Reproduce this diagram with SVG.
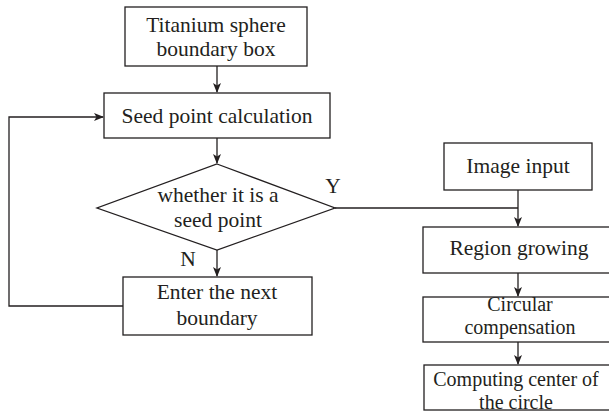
<svg xmlns="http://www.w3.org/2000/svg" width="609" height="413" viewBox="0 0 609 413">
<style>
.box{fill:#fff;stroke:#231f20;stroke-width:1.3}
.t{font-family:"Liberation Serif","Times New Roman",serif;font-size:21.5px;fill:#231f20;text-anchor:middle}
.s{font-size:20px}
.c{fill:none;stroke:#231f20;stroke-width:1.3}
</style>
<defs>
<marker id="ah" markerWidth="10" markerHeight="8" refX="9" refY="4" orient="auto" markerUnits="userSpaceOnUse">
<path d="M0,0 L10,4 L0,8 L2.5,4 Z" fill="#231f20"/>
</marker>
</defs>
<g id="connectors">
<path class="c" d="M217,66 V92" marker-end="url(#ah)"/>
<path class="c" d="M217,138 V163" marker-end="url(#ah)"/>
<path class="c" d="M217,250 V276" marker-end="url(#ah)"/>
<path class="c" d="M123,306 H9 V117 H103" marker-end="url(#ah)"/>
<path class="c" d="M335,208 H518"/>
<path class="c" d="M518,190 V226" marker-end="url(#ah)"/>
<path class="c" d="M518,273 V296" marker-end="url(#ah)"/>
<path class="c" d="M518,342 V364" marker-end="url(#ah)"/>
</g>
<g id="titanium">
<rect class="box" x="125" y="7" width="182" height="59"/>
<text class="t" x="216" y="32">Titanium sphere</text>
<text class="t" x="216" y="56">boundary box</text>
</g>
<g id="seed">
<rect class="box" x="104" y="93" width="226" height="45"/>
<text class="t" x="217" y="123">Seed point calculation</text>
</g>
<g id="decision">
<polygon class="box" points="217,164 335,208 217,250 97,208"/>
<text class="t" x="218" y="202">whether it is a</text>
<text class="t" x="218" y="227">seed point</text>
</g>
<g id="label-n"><text class="t" x="188" y="266">N</text></g>
<g id="label-y"><text class="t" x="333" y="193">Y</text></g>
<g id="next">
<rect class="box" x="123" y="277" width="189" height="58"/>
<text class="t" x="217" y="299">Enter the next</text>
<text class="t" x="217" y="325">boundary</text>
</g>
<g id="image">
<rect class="box" x="444" y="143" width="148" height="47"/>
<text class="t" x="518" y="173">Image input</text>
</g>
<g id="region">
<rect class="box" x="423" y="227" width="190" height="46"/>
<text class="t" x="519" y="255">Region growing</text>
</g>
<g id="circular">
<rect class="box" x="423" y="297" width="190" height="45"/>
<text class="t s" x="520" y="311">Circular</text>
<text class="t s" x="520" y="334">compensation</text>
</g>
<g id="computing">
<rect class="box" x="424" y="365" width="190" height="45"/>
<text class="t s" x="516" y="386">Computing center of</text>
<text class="t s" x="516" y="409">the circle</text>
</g>
</svg>
